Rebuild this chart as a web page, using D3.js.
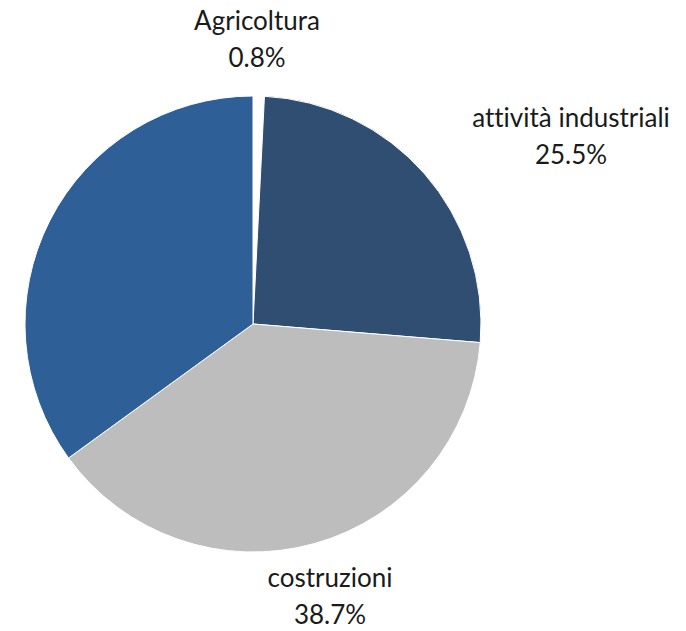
<!DOCTYPE html>
<html>
<head>
<meta charset="utf-8">
<script src="https://cdn.jsdelivr.net/npm/d3@7"></script>
<style>
  body { margin: 0; background: #fff; }
  text { font-family: Lato, "Open Sans", sans-serif; fill: #1a1a1a; font-variant-ligatures: none; }
</style>
</head>
<body>
<div id="chart"></div>
<script>
const categories = ["Agricoltura", "attività industriali", "costruzioni", "altro"];
const values = [0.8, 25.5, 38.7, 35.0];
const showLabel = [true, true, true, false];
const colors = ["#ffffff", "#2f4e72", "#bdbdbd", "#2e5f97"];

const width = 686;
const height = 631;
const cx = 253, cy = 324, radius = 228;

const data = categories.map((c, i) => ({ name: c, value: values[i], label: showLabel[i] }));

const svg = d3.select("#chart")
  .append("svg")
  .attr("width", width)
  .attr("height", height);

const pie = d3.pie()
  .value(d => d.value)
  .sort(null);

const arc = d3.arc()
  .innerRadius(0)
  .outerRadius(radius);

const g = svg.append("g")
  .attr("transform", `translate(${cx},${cy})`);

const arcs = pie(data);

g.selectAll("path")
  .data(arcs)
  .join("path")
  .attr("d", arc)
  .attr("fill", (d, i) => colors[i])
  .attr("stroke", "#fff")
  .attr("stroke-width", 1);

// posizione etichette (relativa al centro)
const labelPos = [[4, -294], [318, -197], [77, 263]];

arcs.forEach((d, i) => {
  if (!d.data.label) return;
  const [x, y] = labelPos[i];
  const t = g.append("text")
    .attr("text-anchor", "middle")
    .attr("x", x)
    .attr("y", y)
    .style("font-size", "26px");
  t.append("tspan").attr("x", x).text(d.data.name);
  t.append("tspan").attr("x", x).attr("dy", 37).text(d3.format(".1f")(d.data.value) + "%");
});
</script>
</body>
</html>
